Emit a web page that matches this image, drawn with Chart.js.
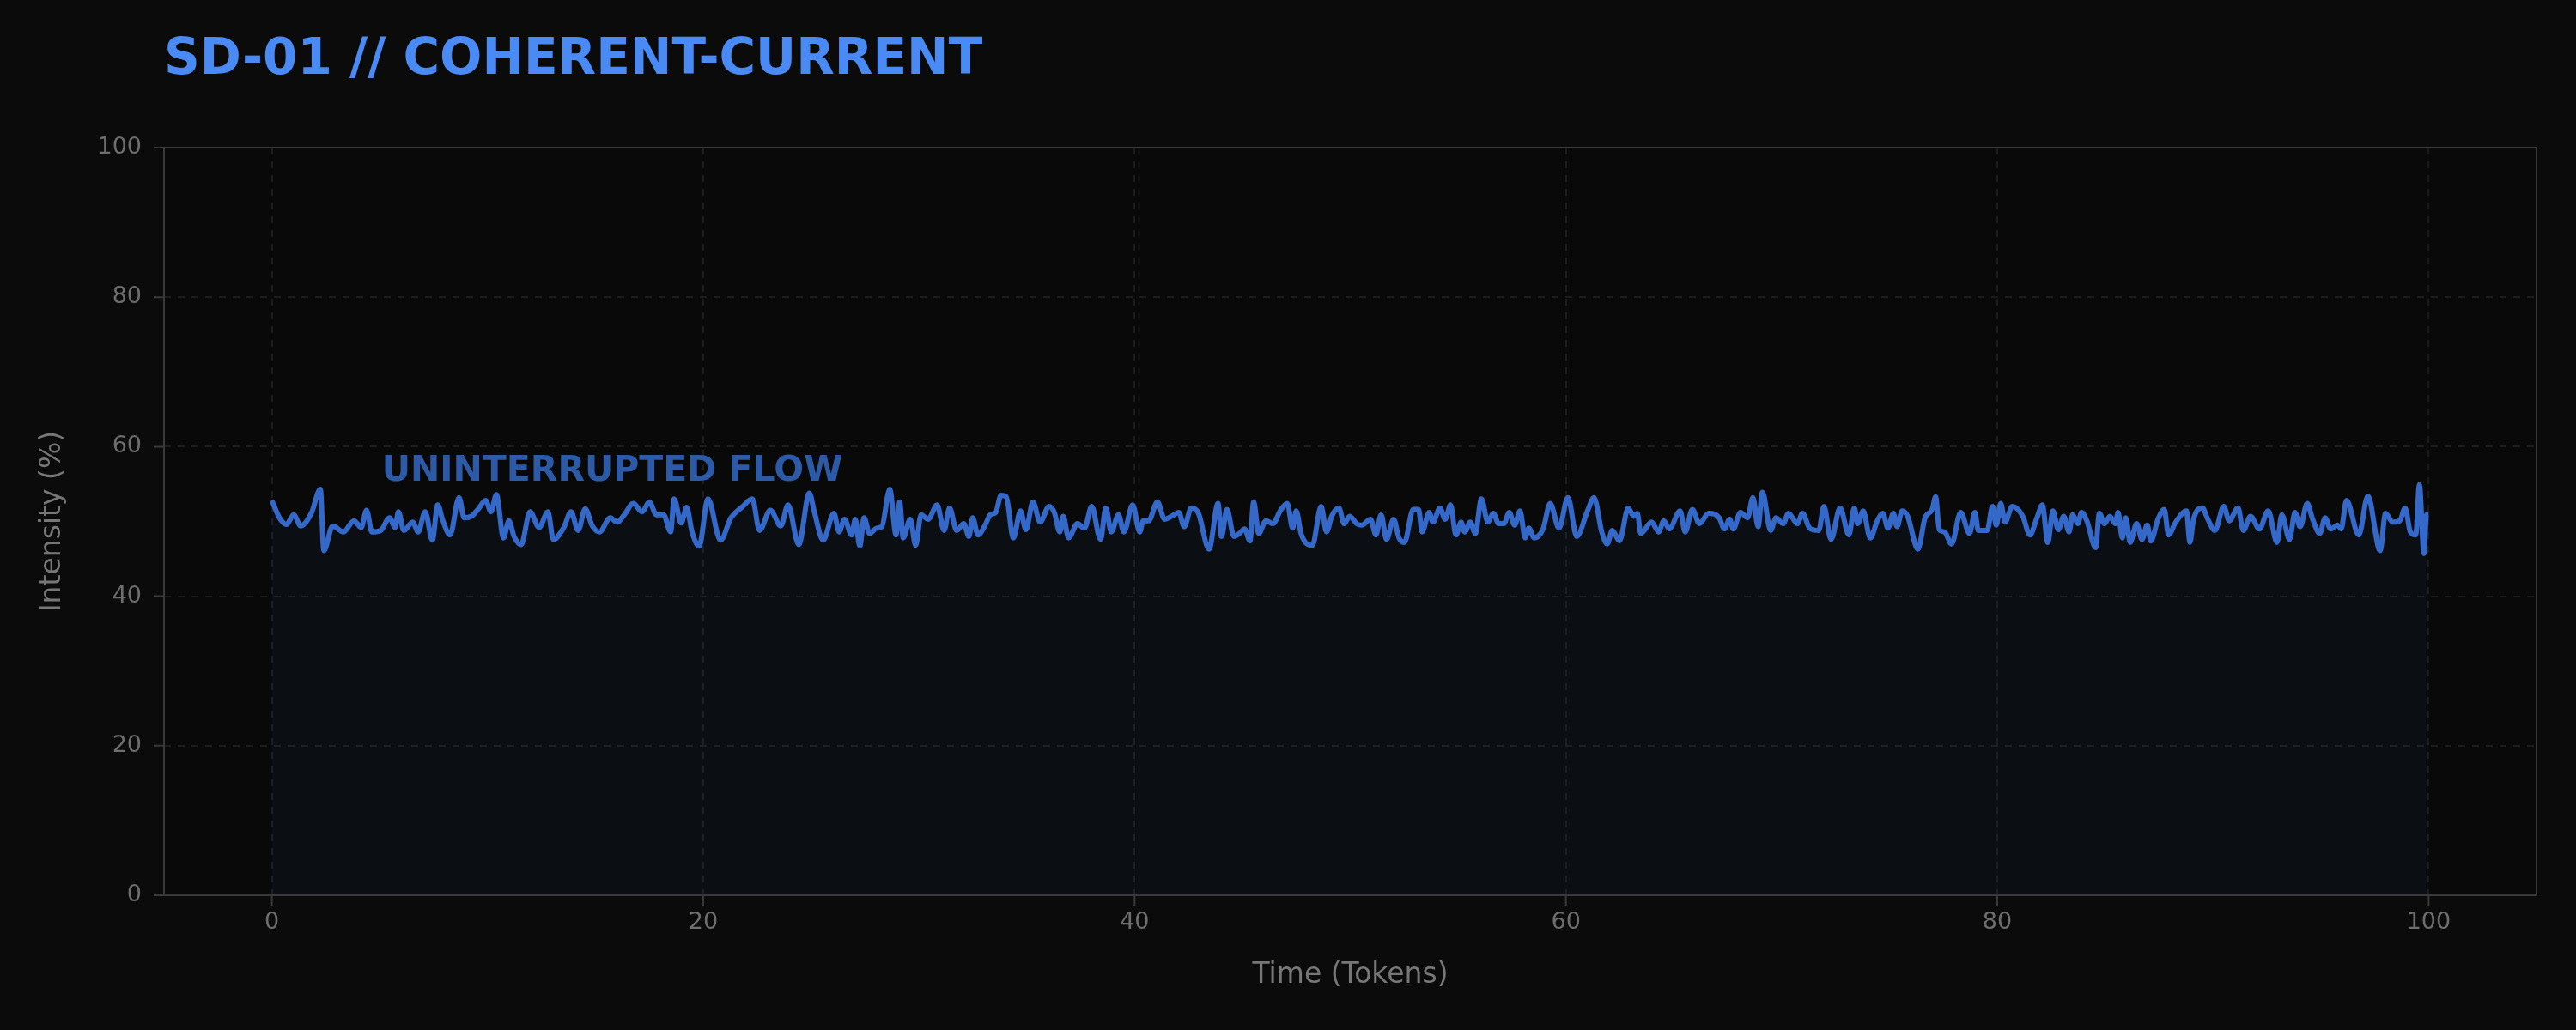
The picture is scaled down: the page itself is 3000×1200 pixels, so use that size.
<!DOCTYPE html>
<html>
<head>
<meta charset="utf-8">
<script src="https://cdn.jsdelivr.net/npm/chart.js@4.4.0/dist/chart.umd.min.js"></script>
<style>
  html, body { margin: 0; padding: 0; background: #0b0b0b; }
  canvas { display: block; }
</style>
</head>
<body>
<canvas id="flowChart" width="3000" height="1200" style="width:3000px;height:1200px"></canvas>
<script>
// Time axis (tokens) and intensity readings
const timeTokens = [0,0.35,0.68,1.01,1.34,1.83,2.25,2.41,2.82,3.32,3.81,4.14,4.39,4.64,5.05,5.46,5.71,5.87,6.12,6.53,6.78,7.11,7.44,7.69,7.93,8.26,8.68,8.92,9.25,9.58,9.91,10.16,10.41,10.74,10.99,11.23,11.56,11.97,12.39,12.8,13.05,13.54,13.87,14.2,14.53,14.86,15.19,15.69,16.01,16.34,16.76,17.17,17.5,17.83,18.16,18.49,18.65,18.98,19.23,19.48,19.81,20.22,20.8,21.29,21.79,22.28,22.61,23.11,23.6,23.93,24.43,24.92,
  25.15,25.56,26.06,26.3,26.55,26.88,27.05,27.26,27.46,27.71,28.04,28.28,28.65,28.94,29.11,29.27,29.6,29.85,30.1,30.43,30.84,31.17,31.42,31.75,32.08,32.32,32.49,32.74,33.07,33.31,33.56,33.81,34.05,34.38,34.71,34.96,35.29,35.62,36.03,36.28,36.53,36.69,36.94,37.35,37.68,38.01,38.42,38.67,38.92,39.25,39.5,39.91,40.24,40.4,40.65,41.06,41.39,41.72,42.05,42.3,42.63,42.96,43.45,43.87,44.03,44.28,44.61,44.86,45.1,45.35,45.52,45.76,46.09,46.42,46.75,47.08,47.33,47.49,47.74,48.24,48.65,48.9,49.14,49.47,49.72,49.97,50.3,
  50.53,50.94,51.19,51.43,51.68,52.01,52.26,52.51,52.92,53.17,53.33,53.66,53.83,54.16,54.4,54.65,54.9,55.14,55.31,55.56,55.8,56.08,56.38,56.63,56.88,57.12,57.37,57.62,57.87,58.11,58.28,58.53,58.94,59.27,59.68,60.09,60.5,61.0,61.3,61.66,61.91,62.15,62.48,62.89,63.14,63.31,63.47,63.97,64.3,64.54,64.79,65.29,65.53,65.86,66.19,66.61,67.1,67.35,67.59,67.76,68.09,68.42,68.67,68.91,69.11,69.49,69.74,70.07,70.32,70.73,70.97,71.3,71.72,71.96,72.29,72.71,73.12,73.37,73.53,73.78,74.11,74.44,74.69,74.93,75.18,75.35,75.59,75.84,
  76.32,76.65,76.98,77.14,77.31,77.55,77.88,78.3,78.71,78.96,79.12,79.53,79.78,79.95,80.16,80.36,80.69,81.18,81.51,81.84,82.09,82.34,82.58,82.83,83.08,83.33,83.49,83.74,83.9,84.15,84.56,84.73,84.97,85.22,85.47,85.6,85.8,85.96,86.16,86.46,86.71,86.95,87.12,87.45,87.74,87.94,88.27,88.77,88.93,89.1,89.51,89.76,90.09,90.5,90.75,91.16,91.41,91.74,92.15,92.56,92.97,93.19,93.55,93.8,94.04,94.37,94.62,94.95,95.2,95.45,95.78,95.94,96.19,96.76,97.18,97.75,98.0,98.33,98.66,98.91,99.15,99.4,99.57,99.78,99.9,100];
const intensity = [52.8,50.5,49.6,50.9,49.4,51.1,54.3,46.1,49.4,48.6,50.1,49.2,51.5,48.6,48.8,50.5,49.2,51.3,48.8,49.9,48.6,51.3,47.5,52.2,50.1,48.2,53.2,50.5,50.7,51.7,52.8,51.3,53.6,47.8,50.1,48.0,46.9,51.3,49.2,51.3,47.6,49.2,51.3,48.8,51.7,49.4,48.6,50.5,49.9,50.9,52.4,51.3,52.6,50.9,50.9,48.6,53.0,49.8,51.9,48.6,46.7,53.0,47.5,50.5,51.9,53.0,48.8,51.5,49.4,52.2,46.9,53.8,
  51.3,47.5,51.1,48.6,50.3,48.2,50.3,46.7,50.5,48.4,49.1,49.3,54.3,48.2,52.6,47.8,50.3,46.8,50.9,50.3,52.2,48.8,51.8,48.8,49.7,48.0,50.5,48.2,49.5,50.9,51.2,53.5,53.3,47.8,51.4,48.9,52.6,49.9,52.0,51.2,48.6,50.7,47.8,49.7,49.1,52.0,47.6,51.8,48.6,50.9,48.6,52.2,48.6,50.1,50.1,52.6,50.3,50.7,51.2,49.3,51.8,51.1,46.3,52.4,48.0,51.6,48.0,48.4,49.0,47.4,52.6,48.4,50.1,49.7,51.4,52.4,49.1,51.4,48.2,46.8,52.0,48.6,50.7,51.8,49.7,50.7,49.7,
  49.5,50.3,48.2,50.9,47.6,50.3,47.8,47.2,51.6,51.6,48.6,51.2,49.9,51.8,50.3,52.2,48.2,49.9,48.6,49.9,48.4,53.0,49.9,51.1,49.7,49.7,51.2,49.5,51.4,47.8,49.1,47.8,49.0,52.4,49.1,53.2,48.0,51.4,53.2,48.6,47.0,48.8,47.4,51.8,50.7,51.1,48.4,49.9,48.6,50.1,49.0,51.4,48.6,51.6,49.7,51.1,50.5,49.0,50.3,49.0,51.2,50.5,53.2,49.3,53.9,48.8,50.5,49.7,51.1,49.7,51.1,49.1,48.8,52.0,47.6,51.8,48.2,51.8,49.7,51.4,47.8,50.1,51.1,49.1,51.1,49.3,51.4,50.7,
  46.3,50.5,51.6,53.3,48.9,48.6,47.0,51.2,48.4,51.2,48.8,48.8,52.0,49.5,52.4,49.9,52.0,50.7,48.2,50.5,52.2,47.2,51.4,48.9,50.7,48.6,50.9,49.7,51.2,50.1,46.5,51.1,49.7,50.7,49.7,51.2,47.8,50.5,47.2,49.7,47.6,49.5,47.4,50.3,51.6,48.2,49.9,51.4,47.2,50.3,51.8,50.3,48.8,52.0,50.1,51.8,48.8,50.7,49.0,51.4,47.2,50.9,47.6,51.2,49.3,52.4,50.3,48.4,50.5,49.0,49.5,49.0,52.8,48.2,53.4,46.1,51.1,49.9,50.1,51.8,48.6,48.2,54.9,45.7,50.9,50.9];
const xTicks = [0, 20, 40, 60, 80, 100];
const yTicks = [0, 20, 40, 60, 80, 100];

const lineBlue = '#3569c9';
const tickGrey = '#6e6e6e';

// frame, title and the in-plot label
const decorPlugin = {
    id: 'decor',
    beforeDraw(chart) {
        const ctx = chart.ctx;
        const a = chart.chartArea;
        ctx.save();
        ctx.fillStyle = '#0b0b0b';
        ctx.fillRect(0, 0, chart.width, chart.height);
        ctx.fillStyle = '#090909';
        ctx.fillRect(a.left, a.top, a.right - a.left, a.bottom - a.top);
        ctx.restore();
    },
    afterDraw(chart) {
        const ctx = chart.ctx;
        const a = chart.chartArea;
        const xs = chart.scales.x, ys = chart.scales.y;
        ctx.save();
        ctx.strokeStyle = '#3a3a3a';
        ctx.lineWidth = 2;
        ctx.strokeRect(a.left, a.top, a.right - a.left, a.bottom - a.top);
        // tick marks
        ctx.beginPath();
        xTicks.forEach(v => { const px = xs.getPixelForValue(v); ctx.moveTo(px, a.bottom); ctx.lineTo(px, a.bottom + 12); });
        yTicks.forEach(v => { const py = ys.getPixelForValue(v); ctx.moveTo(a.left, py); ctx.lineTo(a.left - 12, py); });
        ctx.stroke();

        ctx.fillStyle = '#4a8af4';
        ctx.font = "bold 58px 'DejaVu Sans'";
        ctx.textBaseline = 'middle';
        ctx.fillText('SD-01 // COHERENT-CURRENT', 191, 71);

        ctx.fillStyle = '#2d5aa6';
        ctx.font = "bold 41px 'DejaVu Sans'";
        ctx.fillText('UNINTERRUPTED FLOW', xs.getPixelForValue(5.1), ys.getPixelForValue(56.7));
        ctx.restore();
    }
};

new Chart(document.getElementById('flowChart').getContext('2d'), {
    type: 'line',
    data: {
        datasets: [{
            data: timeTokens.map((t, i) => ({ x: t, y: intensity[i] })),
            borderColor: lineBlue,
            borderWidth: 6,
            backgroundColor: 'rgba(58,114,210,0.05)',
            fill: 'origin',
            pointRadius: 0,
            cubicInterpolationMode: 'monotone'
        }]
    },
    options: {
        responsive: false,
        animation: false,
        devicePixelRatio: 1,
        layout: { padding: { top: 172, right: 46, left: 0, bottom: 0 } },
        plugins: { legend: { display: false }, tooltip: { enabled: false } },
        scales: {
            x: {
                type: 'linear',
                min: -5,
                max: 105,
                afterBuildTicks: s => { s.ticks = xTicks.map(v => ({ value: v })); },
                afterFit: s => { s.height = 157; },
                ticks: { color: tickGrey, font: { size: 27, family: 'DejaVu Sans' }, padding: 16 },
                grid: { color: '#1c1c1c', lineWidth: 2, drawTicks: false },
                border: { display: false, dash: [8, 8] },
                title: {
                    display: true, text: 'Time (Tokens)', color: '#777777',
                    font: { size: 33, family: 'DejaVu Sans' }, padding: { top: 10, bottom: 44 }
                }
            },
            y: {
                min: 0,
                max: 100,
                afterBuildTicks: s => { s.ticks = yTicks.map(v => ({ value: v })); },
                afterFit: s => { s.width = 191; },
                ticks: { color: tickGrey, font: { size: 27, family: 'DejaVu Sans' }, padding: 26 },
                grid: { color: '#1c1c1c', lineWidth: 2, drawTicks: false },
                border: { display: false, dash: [8, 8] },
                title: {
                    display: true, text: 'Intensity (%)', color: '#777777',
                    font: { size: 33, family: 'DejaVu Sans' }, padding: { top: 42, bottom: 10 }
                }
            }
        }
    },
    plugins: [decorPlugin]
});
</script>
</body>
</html>
